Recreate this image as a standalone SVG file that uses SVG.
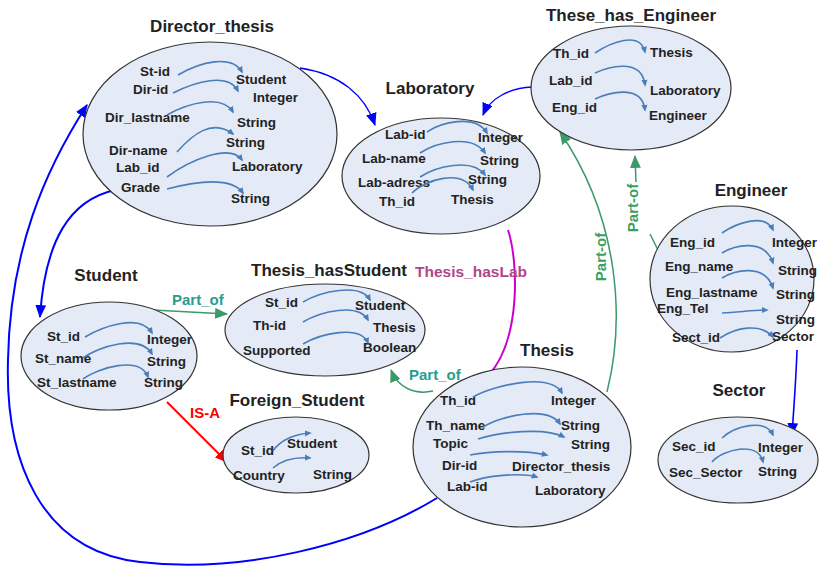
<svg xmlns="http://www.w3.org/2000/svg" width="839" height="567" viewBox="0 0 839 567">
<style>
.e{fill:#e5ebf6;stroke:#333;stroke-width:1.2}
.t{font:bold 17px "Liberation Sans",Arial,sans-serif;fill:#222}
.f{font:bold 13.5px "Liberation Sans",Arial,sans-serif;fill:#222}
.ia{fill:none;stroke:#4a7ebb;stroke-width:1.6;marker-end:url(#mi)}
.bl{fill:none;stroke:#0000ff}
.gr{fill:none;stroke:#3a9a6a;stroke-width:1.5}
.lg{font:bold 15px "Liberation Sans",Arial,sans-serif;fill:#2a9d8f}
.lg2{font:bold 15px "Liberation Sans",Arial,sans-serif;fill:#3aa060}
</style>
<defs>
<marker id="mi" viewBox="0 0 8 8" refX="6" refY="4" markerWidth="7" markerHeight="7" markerUnits="userSpaceOnUse" orient="auto"><path d="M0,0.5 L8,4 L0,7.5 z" fill="#4a7ebb"/></marker>
<marker id="mb" viewBox="0 0 12 10" refX="11" refY="5" markerWidth="13" markerHeight="11" markerUnits="userSpaceOnUse" orient="auto"><path d="M0,0 L12,5 L0,10 z" fill="#0000ff"/></marker>
<marker id="mg" viewBox="0 0 12 10" refX="11" refY="5" markerWidth="13" markerHeight="11" markerUnits="userSpaceOnUse" orient="auto"><path d="M0,0 L12,5 L0,10 z" fill="#3a9a6a"/></marker>
<marker id="mr" viewBox="0 0 12 10" refX="11" refY="5" markerWidth="13" markerHeight="11" markerUnits="userSpaceOnUse" orient="auto"><path d="M0,0 L12,5 L0,10 z" fill="#ff0000"/></marker>
</defs>
<rect width="839" height="567" fill="#fff"/>

<g id="connectors">
<path class="bl" stroke-width="1.3" d="M300,68 C340,74 365,95 375,125" marker-end="url(#mb)"/>
<path class="bl" stroke-width="1.3" d="M532,87 C510,88 490,98 483,115" marker-end="url(#mb)"/>
<path class="bl" stroke-width="1.6" d="M797,350 C796,380 794,405 792,435" marker-end="url(#mb)"/>
<path class="bl" stroke-width="2" d="M115,190 C70,200 45,240 40,317" marker-end="url(#mb)"/>
<path class="bl" stroke-width="2" d="M437,498 C360,545 240,574 140,562 C40,551 5,460 8,360 C10,250 45,170 87,105" marker-end="url(#mb)"/>
<path class="gr" d="M153,310 L227,314" marker-end="url(#mg)"/>
<text class="lg" x="172" y="305">Part_of</text>
<path class="gr" d="M433,391 C415,395 398,388 391,370" marker-end="url(#mg)"/>
<text class="lg" x="409" y="380">Part_of</text>
<path fill="none" stroke="#ff0000" stroke-width="2" d="M167,402 L227,462" marker-end="url(#mr)"/>
<text x="190" y="418" style="font:bold 15px 'Liberation Sans',Arial,sans-serif;fill:#ff0000">IS-A</text>
<path fill="none" stroke="#cc00cc" stroke-width="2" d="M508,230 C518,260 522,340 487,377"/>
<text x="415" y="277" style="font:bold 15.5px 'Liberation Sans',Arial,sans-serif;fill:#b0468a">Thesis_hasLab</text>
<path class="gr" d="M607,392 C625,320 620,220 560,132" marker-end="url(#mg)"/>
<text class="lg2" transform="translate(606,257) rotate(-90)" text-anchor="middle">Part-of</text>
<path class="gr" d="M662,258 L650,234"/>
<path class="gr" d="M636,182 L635,156" marker-end="url(#mg)"/>
<text class="lg2" transform="translate(638,208) rotate(-90)" text-anchor="middle">Part-of</text>
</g>

<g id="Director_thesis">
<ellipse class="e" cx="210" cy="134" rx="127" ry="92"/>
<text class="t" x="212" y="32" text-anchor="middle">Director_thesis</text>
<text class="f" x="140" y="76">St-id</text>
<text class="f" x="133" y="94">Dir-id</text>
<text class="f" x="105" y="122">Dir_lastname</text>
<text class="f" x="109" y="155">Dir-name</text>
<text class="f" x="116" y="172">Lab_id</text>
<text class="f" x="121" y="192">Grade</text>
<text class="f" x="236" y="84">Student</text>
<text class="f" x="253" y="102">Integer</text>
<text class="f" x="237" y="127">String</text>
<text class="f" x="226" y="147">String</text>
<text class="f" x="232" y="171">Laboratory</text>
<text class="f" x="231" y="203">String</text>
<path class="ia" d="M178,75 C200,62 232,54 242,72"/>
<path class="ia" d="M173,93 C195,82 228,72 238,91"/>
<path class="ia" d="M167,115 C188,103 222,94 233,112"/>
<path class="ia" d="M177,152 C192,135 212,118 233,134"/>
<path class="ia" d="M167,177 C190,160 230,143 242,160"/>
<path class="ia" d="M167,189 C190,183 230,175 243,193"/>
</g>

<g id="Laboratory">
<ellipse class="e" cx="441" cy="176" rx="99" ry="58"/>
<text class="t" x="430" y="94" text-anchor="middle">Laboratory</text>
<text class="f" x="385" y="139">Lab-id</text>
<text class="f" x="362" y="163">Lab-name</text>
<text class="f" x="358" y="187">Lab-adress</text>
<text class="f" x="379" y="206">Th_id</text>
<text class="f" x="478" y="142">Integer</text>
<text class="f" x="480" y="165">String</text>
<text class="f" x="468" y="184">String</text>
<text class="f" x="451" y="204">Thesis</text>
<path class="ia" d="M427,132 C440,123 475,113 487,133"/>
<path class="ia" d="M420,153 C435,143 472,133 485,153"/>
<path class="ia" d="M420,177 C435,167 472,157 485,175"/>
<path class="ia" d="M412,193 C425,180 462,168 473,190"/>
</g>

<g id="These_has_Engineer">
<ellipse class="e" cx="631" cy="88" rx="100" ry="62"/>
<text class="t" x="631" y="21" text-anchor="middle">These_has_Engineer</text>
<text class="f" x="553" y="58">Th_id</text>
<text class="f" x="549" y="85">Lab_id</text>
<text class="f" x="552" y="112">Eng_id</text>
<text class="f" x="650" y="57">Thesis</text>
<text class="f" x="650" y="95">Laboratory</text>
<text class="f" x="649" y="120">Engineer</text>
<path class="ia" d="M595,53 C610,43 640,30 645,52"/>
<path class="ia" d="M595,73 C610,66 642,58 645,85"/>
<path class="ia" d="M595,99 C610,92 642,84 645,110"/>
</g>

<g id="Engineer">
<ellipse class="e" cx="732" cy="279" rx="82" ry="73"/>
<text class="t" x="751" y="196" text-anchor="middle">Engineer</text>
<text class="f" x="670" y="247">Eng_id</text>
<text class="f" x="665" y="271">Eng_name</text>
<text class="f" x="666" y="297">Eng_lastname</text>
<text class="f" x="657" y="313">Eng_Tel</text>
<text class="f" x="672" y="342">Sect_id</text>
<text class="f" x="772" y="247">Integer</text>
<text class="f" x="778" y="275">String</text>
<text class="f" x="776" y="299">String</text>
<text class="f" x="776" y="324">String</text>
<text class="f" x="772" y="341">Sector</text>
<path class="ia" d="M722,233 C735,224 765,212 773,230"/>
<path class="ia" d="M722,253 C735,245 765,238 773,263"/>
<path class="ia" d="M722,278 C735,270 765,263 773,288"/>
<path class="ia" d="M722,313 C740,312 755,310 767,310"/>
<path class="ia" d="M720,338 C735,328 760,322 773,337"/>
</g>

<g id="Sector">
<ellipse class="e" cx="738" cy="460" rx="80" ry="43"/>
<text class="t" x="739" y="396" text-anchor="middle">Sector</text>
<text class="f" x="672" y="451">Sec_id</text>
<text class="f" x="669" y="477">Sec_Sector</text>
<text class="f" x="758" y="452">Integer</text>
<text class="f" x="758" y="476">String</text>
<path class="ia" d="M722,438 C735,426 765,418 773,435"/>
<path class="ia" d="M712,462 C722,450 758,440 763,462"/>
</g>

<g id="Student">
<ellipse class="e" cx="109" cy="356" rx="88" ry="54"/>
<text class="t" x="106" y="281" text-anchor="middle">Student</text>
<text class="f" x="47" y="341">St_id</text>
<text class="f" x="35" y="363">St_name</text>
<text class="f" x="37" y="387">St_lastname</text>
<text class="f" x="147" y="344">Integer</text>
<text class="f" x="147" y="366">String</text>
<text class="f" x="144" y="387">String</text>
<path class="ia" d="M85,337 C100,328 140,312 152,333"/>
<path class="ia" d="M83,358 C98,347 140,333 152,354"/>
<path class="ia" d="M83,379 C98,368 140,355 148,377"/>
</g>

<g id="Thesis_hasStudent">
<ellipse class="e" cx="325" cy="330" rx="100" ry="46"/>
<text class="t" x="329" y="276" text-anchor="middle">Thesis_hasStudent</text>
<text class="f" x="265" y="307">St_id</text>
<text class="f" x="253" y="330">Th-id</text>
<text class="f" x="243" y="355">Supported</text>
<text class="f" x="355" y="310">Student</text>
<text class="f" x="373" y="332">Thesis</text>
<text class="f" x="363" y="352">Boolean</text>
<path class="ia" d="M303,302 C320,292 360,282 370,300"/>
<path class="ia" d="M303,322 C320,312 358,302 368,320"/>
<path class="ia" d="M303,344 C320,334 360,324 368,343"/>
</g>

<g id="Thesis">
<ellipse class="e" cx="522" cy="447" rx="109" ry="80"/>
<text class="t" x="547" y="356" text-anchor="middle">Thesis</text>
<text class="f" x="440" y="405">Th_id</text>
<text class="f" x="426" y="430">Th_name</text>
<text class="f" x="433" y="448">Topic</text>
<text class="f" x="442" y="470">Dir-id</text>
<text class="f" x="447" y="491">Lab-id</text>
<text class="f" x="551" y="405">Integer</text>
<text class="f" x="561" y="430">String</text>
<text class="f" x="571" y="449">String</text>
<text class="f" x="512" y="471">Director_thesis</text>
<text class="f" x="535" y="495">Laboratory</text>
<path class="ia" d="M473,397 C495,385 550,372 562,393"/>
<path class="ia" d="M483,427 C500,416 548,405 560,424"/>
<path class="ia" d="M478,439 C500,432 545,427 564,437"/>
<path class="ia" d="M470,455 C490,451 525,450 547,455"/>
<path class="ia" d="M470,482 C485,476 520,472 537,477"/>
</g>

<g id="Foreign_Student">
<ellipse class="e" cx="296" cy="455" rx="73" ry="38"/>
<text class="t" x="297" y="406" text-anchor="middle">Foreign_Student</text>
<text class="f" x="241" y="455">St_id</text>
<text class="f" x="233" y="480">Country</text>
<text class="f" x="287" y="448">Student</text>
<text class="f" x="313" y="479">String</text>
<path class="ia" d="M273,451 C280,440 295,434 310,433"/>
<path class="ia" d="M273,468 C282,460 295,457 310,458"/>
</g>
</svg>
